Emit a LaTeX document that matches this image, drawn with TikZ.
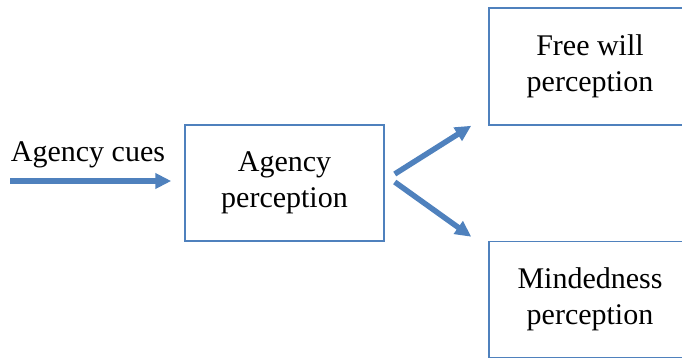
\documentclass[tikz,border=0pt]{standalone}
\usepackage{fontspec}
\setmainfont{Liberation Serif}
\usetikzlibrary{arrows.meta,positioning}
\definecolor{officeblue}{RGB}{79,129,189}

\begin{document}
\begin{tikzpicture}[x=0.5pt,y=-0.5pt,
    box/.style={rectangle,draw=officeblue,line width=0.75pt,fill=white,
                minimum width=99.5pt,minimum height=58pt,
                font=\fontsize{15}{18}\selectfont,align=center},
    lbl/.style={font=\fontsize{15}{18}\selectfont,inner sep=0pt},
    arrow/.style={-{Triangle[length=8pt,width=7.5pt]},line width=2.75pt,officeblue}
]
    \useasboundingbox (0,0) rectangle (682,358);
    \clip (0,0) rectangle (682,358);
    \node[box] (perc) at (284.5,183) {Agency\\perception};
    \node[box,minimum width=101pt,minimum height=58.5pt] (fw) at (590,66.5) {Free will\\perception};
    \node[box,minimum width=101pt] (md) at (590,299.5) {Mindedness\\perception};
    \node[lbl,anchor=base] (cues) at (88,162) {Agency cues};
    \coordinate (cuesstart) at (10,181);
    \draw[arrow,shorten >=6.5pt] (cuesstart) -- (perc.west |- cuesstart);
    \draw[arrow] ([shift={(10,-9)}]perc.east) -- ([shift={(-17,0)}]fw.south west);
    \draw[arrow] ([shift={(10,-1)}]perc.east) -- ([shift={(-17,-4)}]md.north west);
\end{tikzpicture}
\end{document}
